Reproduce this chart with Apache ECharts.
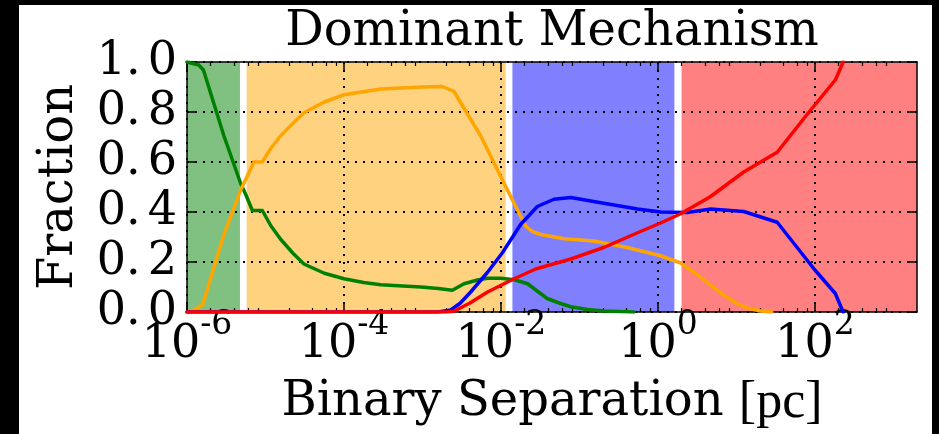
<!DOCTYPE html>
<html><head><meta charset="utf-8">
<script src="https://cdn.jsdelivr.net/npm/echarts@6/dist/echarts.min.js"></script>
<style>
html,body{margin:0;padding:0;background:#000;width:939px;height:434px;overflow:hidden}
#chart{position:absolute;left:19px;top:5px;width:913px;height:429px;background:#fff}
</style></head><body><div id="chart"></div>
<script>
const titleText = 'Dominant Mechanism';
const xAxisTitle = 'Binary Separation ';
const xAxisUnit = '[pc]';
const yAxisTitle = 'Fraction';
const xMin = 1e-6, xMax = 2000;
const xMajorTicks = [1e-6, 1e-4, 1e-2, 1, 100];
const xMinorMantissas = [2, 4, 6, 8];
const xMinorDecades = [-6, -5, -4, -3, -2, -1, 0, 1, 2];
const yMin = 0, yMax = 1, yStep = 0.2;

const greenX = [1e-6, 1.41e-6, 1.62e-6, 2.95e-6, 4.83e-6, 5.6e-6, 6.81e-6, 9.12e-6, 1.17e-5, 1.56e-5, 2.24e-5, 3.09e-5, 5.62e-5, 1e-4, 1.78e-4, 2.95e-4, 5.62e-4, 9.55e-4, 1.58e-3, 2.4e-3, 3.39e-3, 5.01e-3, 6.76e-3, 1e-2, 1.48e-2, 2.19e-2, 2.95e-2, 3.89e-2, 5.62e-2, 7.76e-2, 0.126, 0.204, 0.5];
const greenY = [1.0, 0.988, 0.968, 0.705, 0.514, 0.47, 0.406, 0.406, 0.345, 0.291, 0.235, 0.192, 0.155, 0.133, 0.118, 0.109, 0.104, 0.10, 0.094, 0.087, 0.113, 0.128, 0.135, 0.135, 0.129, 0.113, 0.082, 0.054, 0.035, 0.021, 0.010, 0.004, 0.0];

const orangeX = [1e-6, 1.11e-6, 1.58e-6, 2.95e-6, 4.83e-6, 7.13e-6, 9.12e-6, 1.17e-5, 1.56e-5, 2.24e-5, 3.09e-5, 5.62e-5, 1e-4, 2.95e-4, 1e-3, 1.78e-3, 2.51e-3, 3.55e-3, 5.5e-3, 1e-2, 1.47e-2, 2.07e-2, 2.51e-2, 3.24e-2, 6.35e-2, 0.153, 0.407, 1.08, 1.95, 3.16, 4.7, 7.08, 10.2, 14.1, 20.4, 28.2];
const orangeY = [0, 0, 0.028, 0.31, 0.488, 0.60, 0.60, 0.655, 0.705, 0.755, 0.797, 0.84, 0.869, 0.892, 0.90, 0.902, 0.883, 0.804, 0.705, 0.54, 0.435, 0.343, 0.322, 0.31, 0.293, 0.284, 0.258, 0.225, 0.196, 0.15, 0.107, 0.065, 0.034, 0.015, 0.004, 0];

const blueX = [1e-6, 1.58e-3, 2.29e-3, 3.02e-3, 4.12e-3, 6.76e-3, 1.05e-2, 1.78e-2, 2.91e-2, 4.73e-2, 7.76e-2, 0.204, 0.55, 1.08, 2.37, 4.7, 12.4, 33.1, 97.7, 182, 229];
const blueY = [0, 0, 0.008, 0.035, 0.08, 0.159, 0.238, 0.35, 0.422, 0.451, 0.458, 0.435, 0.412, 0.40, 0.398, 0.412, 0.402, 0.359, 0.172, 0.074, 0];

const redX = [1e-6, 2.0e-3, 2.51e-3, 3.98e-3, 6.76e-3, 1.47e-2, 2.77e-2, 7.76e-2, 0.204, 0.55, 1.08, 1.95, 4.7, 12.4, 33.1, 79.4, 183, 229];
const redY = [0, 0, 0.003, 0.035, 0.08, 0.133, 0.172, 0.212, 0.258, 0.317, 0.356, 0.393, 0.462, 0.56, 0.639, 0.79, 0.929, 1.0];

const bandStart = [1e-6, 5.75e-6, 1.40e-2, 2.0];
const bandEnd = [4.73e-6, 1.15e-2, 1.62, 2000];
const bandColors = ['#80c080', '#ffd27f', '#8080ff', '#ff8080'];

const lineColors = { green: '#008000', orange: '#ffa500', blue: '#0000ff', red: '#ff0000' };

const FONT = 'DejaVu Serif';
const LINE_W = 3.5;
const xMinorTicks = [];
xMinorDecades.forEach(d => xMinorMantissas.forEach(m => xMinorTicks.push(Number((m * Math.pow(10, d)).toPrecision(6)))));

const zip = (xs, ys) => xs.map((x, i) => [x, ys[i]]);

function xAxisBase(extra) {
  return Object.assign({
    type: 'log', logBase: 10, min: xMin, max: xMax, gridIndex: 0, z: 2,
    axisLine: { show: true, lineStyle: { color: '#000', width: 1.5 } },
    axisTick: { show: true, inside: true, length: 8, lineStyle: { color: '#000', width: 1.5 }, customValues: xMajorTicks },
    axisLabel: { show: false },
    splitLine: { show: false },
    minorTick: { show: false },
    minorSplitLine: { show: false }
  }, extra);
}

function yLabel(v) {
  const s = v.toFixed(1).split('.');
  return '{a|' + s[0] + '.}{b|' + s[1] + '}';
}

function lineSeries(name, xs, ys) {
  return {
    type: 'line', name: name, data: zip(xs, ys), z: 3, symbol: 'none', smooth: false,
    lineStyle: { color: lineColors[name], width: LINE_W, cap: 'round', join: 'round' },
    itemStyle: { color: lineColors[name] }
  };
}

const chart = echarts.init(document.getElementById('chart'), null, { renderer: 'canvas' });
chart.setOption({
  animation: false,
  backgroundColor: '#fff',
  grid: { left: 168, top: 57, right: 15, bottom: 117 },
  graphic: [{
    type: 'text', x: 533, y: 4, z: 10,
    style: { text: titleText, fontFamily: FONT, fontSize: 48, fill: '#000', align: 'center', textAlign: 'center', verticalAlign: 'top', textVerticalAlign: 'top' }
  }],
  xAxis: [
    xAxisBase({
      position: 'bottom',
      name: '{a|' + xAxisTitle + '}{b|' + xAxisUnit + '}',
      nameLocation: 'middle', nameGap: 65,
      nameTextStyle: { color: '#000', rich: {
        a: { fontFamily: FONT, fontSize: 48, color: '#000' },
        b: { fontFamily: 'Liberation Serif', fontSize: 52, color: '#000' }
      } },
      axisLabel: {
        show: true, customValues: xMajorTicks, margin: -3,
        formatter: v => '{b|10}{s|' + Math.round(Math.log10(v)) + '}',
        rich: {
          b: { fontFamily: FONT, fontSize: 46, color: '#000', padding: [13, 0, 0, 0], verticalAlign: 'top' },
          s: { fontFamily: FONT, fontSize: 33, color: '#000', verticalAlign: 'top' }
        }
      },
      splitLine: { show: true, lineStyle: { color: '#000', width: 2, type: [2, 6] } }
    }),
    xAxisBase({ position: 'bottom', axisLine: { show: false },
      axisTick: { show: true, inside: true, length: 4, lineStyle: { color: '#000', width: 1.2 }, customValues: xMinorTicks } }),
    xAxisBase({ position: 'top' }),
    xAxisBase({ position: 'top', axisLine: { show: false },
      axisTick: { show: true, inside: true, length: 4, lineStyle: { color: '#000', width: 1.2 }, customValues: xMinorTicks } })
  ],
  yAxis: [
    {
      type: 'value', min: yMin, max: yMax, interval: yStep, position: 'left', z: 2,
      name: yAxisTitle, nameLocation: 'middle', nameGap: 103,
      nameTextStyle: { fontFamily: FONT, fontSize: 48, color: '#000' },
      axisLine: { show: true, lineStyle: { color: '#000', width: 1.5 } },
      axisTick: { show: true, inside: true, length: 8, lineStyle: { color: '#000', width: 1.5 } },
      axisLabel: {
        margin: 10, formatter: yLabel,
        rich: {
          a: { fontFamily: FONT, fontSize: 46, color: '#000' },
          b: { fontFamily: FONT, fontSize: 46, color: '#000', padding: [0, 0, 0, 7] }
        }
      },
      splitLine: { show: true, lineStyle: { color: '#000', width: 2, type: [2, 6] } }
    },
    {
      type: 'value', min: yMin, max: yMax, interval: yStep, position: 'right', z: 2,
      axisLine: { show: true, lineStyle: { color: '#000', width: 1.5 } },
      axisTick: { show: true, inside: true, length: 8, lineStyle: { color: '#000', width: 1.5 } },
      axisLabel: { show: false },
      splitLine: { show: false }
    }
  ],
  series: [
    {
      type: 'line', name: 'bands', data: [], z: 1, silent: true,
      markArea: {
        silent: true,
        itemStyle: { opacity: 1 },
        data: bandStart.map((s, i) => [
          { xAxis: s, yAxis: yMin, itemStyle: { color: bandColors[i], opacity: 1 } },
          { xAxis: bandEnd[i], yAxis: yMax }
        ])
      }
    },
    lineSeries('green', greenX, greenY),
    lineSeries('orange', orangeX, orangeY),
    lineSeries('blue', blueX, blueY),
    lineSeries('red', redX, redY)
  ]
});
</script></body></html>
